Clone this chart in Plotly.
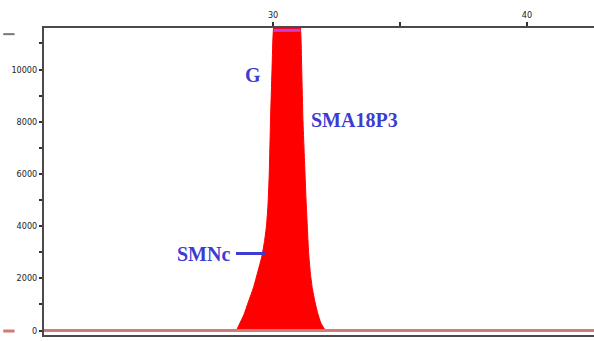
import numpy as np
import plotly.graph_objects as go

# Electropherogram trace around the SMA18P3 / SMNc peak
size_bp = [28.56, 28.68, 28.85, 29.03, 29.23, 29.40, 29.55, 29.66, 29.74, 29.80,
           29.85, 29.90, 29.96, 30.02, 30.20, 30.55, 30.90, 31.08, 31.13, 31.18,
           31.24, 31.30, 31.35, 31.40, 31.47, 31.55, 31.65, 31.75, 31.88, 32.06]
signal = [0, 250, 600, 1100, 1650, 2250, 2800, 3400, 4000, 4800,
          6000, 8000, 10000, 11590, 12600, 13400, 12600, 11590, 10000, 8000,
          6500, 5000, 4000, 3000, 2200, 1600, 1100, 700, 300, 0]

x_ticks = [30, 35, 40]
x_tick_text = ["30", "", "40"]
y_ticks = [0, 2000, 4000, 6000, 8000, 10000]
y_tick_text = ["0", "2000", "4000", "6000", "8000", "10000"]

X_RANGE = [20.98, 42.64]
Y_RANGE = [-172, 11590]

labels = ["G", "SMA18P3", "SMNc"]
label_x = [29.21, 31.40, 28.40]
label_y = [9800, 8050, 2950]

BLUE = "#3c3cd2"
AXIS = "#4a4a4a"
TICK_FONT = dict(family="Liberation Sans Narrow, DejaVu Sans Condensed, Arial Narrow, sans-serif",
                 size=9, color="#222")

fig = go.Figure()

fig.add_trace(go.Scatter(
    x=size_bp, y=signal, mode="lines", fill="tozeroy",
    fillcolor="#ff0000", line=dict(color="#ff0000", width=1, shape="spline", smoothing=0.6),
    hoverinfo="skip", showlegend=False))

# saturated part of the peak, marked along the top of the plot
xs = np.array(size_bp)
ys = np.array(signal)
top = Y_RANGE[1]
i_up = int(np.argmax(ys >= top))
i_dn = len(ys) - 1 - int(np.argmax(ys[::-1] >= top))
sat_x = [xs[i_up], xs[i_dn]]
fig.add_trace(go.Scatter(
    x=sat_x, y=[top - 90, top - 90], mode="lines",
    line=dict(color="#c040d8", width=3), hoverinfo="skip", showlegend=False))

# baseline at zero
fig.add_shape(type="line", xref="paper", x0=0, x1=1, yref="y", y0=0, y1=0,
              line=dict(color="#d07a7a", width=3), layer="above")

# label pointer for SMNc
fig.add_shape(type="line", xref="x", yref="y", x0=28.54, x1=29.68,
              y0=label_y[2], y1=label_y[2], line=dict(color=BLUE, width=3))

anchors = ["center", "left", "right"]
for t, lx, ly, a in zip(labels, label_x, label_y, anchors):
    fig.add_annotation(x=lx, y=ly, text="<b>%s</b>" % t, showarrow=False,
                       xanchor=a, yanchor="middle",
                       font=dict(family="Liberation Serif, Times New Roman, serif",
                                 size=20, color=BLUE))

# small edge stubs left of the plot
fig.add_shape(type="line", xref="paper", yref="paper", x0=-0.0741, x1=-0.0535,
              y0=0.98, y1=0.98, line=dict(color="#777", width=2))
fig.add_shape(type="line", xref="paper", yref="y", x0=-0.0741, x1=-0.0535,
              y0=-20, y1=-20, line=dict(color="#d07a7a", width=3))

fig.update_layout(
    width=594, height=341,
    margin=dict(l=44, r=0, t=28, b=6),
    paper_bgcolor="white", plot_bgcolor="white",
    xaxis=dict(range=X_RANGE, side="top", tickvals=x_ticks, ticktext=x_tick_text,
               ticks="outside", ticklen=4, tickwidth=1.5, tickcolor="#333",
               showline=True, linecolor=AXIS, linewidth=2, mirror=True,
               showgrid=False, zeroline=False, tickfont=TICK_FONT, fixedrange=True),
    yaxis=dict(range=Y_RANGE, tickvals=y_ticks, ticktext=y_tick_text,
               ticks="outside", ticklen=3, tickwidth=2, tickcolor="#333",
               minor=dict(tickvals=[1000, 3000, 5000, 7000, 9000, 11000],
                          ticks="outside", ticklen=3, tickwidth=2, tickcolor="#333"),
               showline=True, linecolor=AXIS, linewidth=2,
               showgrid=False, zeroline=False, tickfont=TICK_FONT, fixedrange=True),
)

fig.write_html("out.html")
